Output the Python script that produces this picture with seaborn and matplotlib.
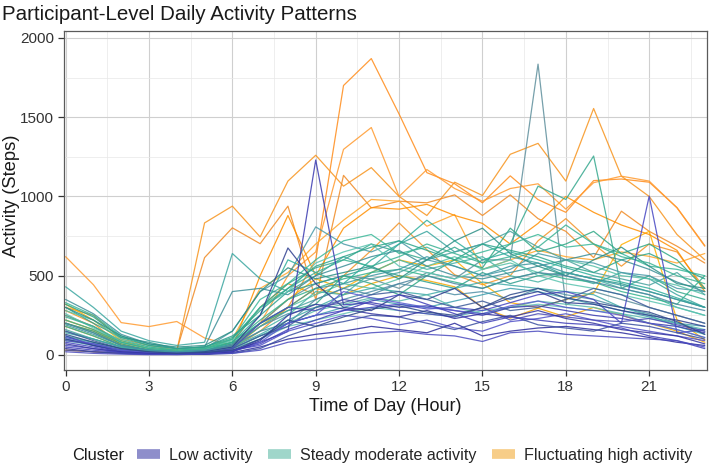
import numpy as np
import pandas as pd
import matplotlib
matplotlib.use("Agg")
import matplotlib.pyplot as plt
import seaborn as sns
from matplotlib.lines import Line2D
from matplotlib.ticker import MultipleLocator

hours = list(range(24))

# ---- Fluctuating high activity (orange) ----
high = {
    "H01": [30, 20, 10, 5, 5, 10, 40, 150, 300, 600, 1700, 1870, 1520, 1150, 1080, 960, 1130, 980, 900, 1100, 1110, 1090, 930, 690],
    "H02": [280, 200, 60, 30, 25, 833, 939, 745, 1097, 1260, 1065, 1182, 1000, 880, 1090, 1006, 1266, 1335, 1097, 1555, 1128, 1000, 760, 600],
    "H03": [620, 443, 204, 179, 211, 107, 60, 200, 500, 650, 1297, 1435, 1000, 1170, 1050, 970, 1050, 1080, 920, 1087, 1128, 1097, 928, 686],
    "H04": [300, 250, 100, 60, 30, 614, 802, 702, 939, 350, 1133, 928, 970, 960, 1010, 880, 1010, 860, 780, 614, 907, 780, 686, 580],
    "H05": [250, 180, 80, 40, 30, 40, 100, 420, 520, 700, 850, 981, 970, 812, 886, 540, 600, 660, 620, 600, 650, 622, 580, 640],
    "H06": [200, 150, 60, 30, 20, 30, 80, 300, 450, 380, 500, 660, 833, 664, 506, 443, 500, 720, 860, 700, 560, 700, 650, 420],
    "H07": [320, 220, 90, 40, 20, 20, 60, 200, 350, 480, 420, 520, 600, 560, 600, 450, 330, 300, 350, 390, 696, 780, 221, 95],
    "H08": [180, 120, 50, 20, 10, 20, 40, 180, 300, 420, 380, 450, 500, 470, 430, 300, 232, 295, 240, 300, 250, 200, 150, 80],
    "H09": [220, 160, 70, 30, 20, 20, 50, 500, 880, 500, 800, 930, 920, 950, 880, 830, 700, 830, 1000, 900, 820, 760, 660, 400],
}
high_colors = ["#ff8c1a", "#f7941d", "#ff9a2e", "#f08a24", "#ffa52a", "#f39325", "#ffb000", "#f5a800", "#ff8f00"]

# ---- Steady moderate activity (teal) ----
steady = {
    "S01": [100, 60, 30, 20, 10, 20, 60, 200, 350, 450, 500, 480, 420, 520, 480, 600, 600, 1835, 316, 400, 350, 300, 250, 200],
    "S02": [200, 140, 60, 30, 20, 30, 80, 300, 450, 550, 600, 700, 650, 600, 680, 580, 700, 1065, 981, 1255, 420, 500, 400, 350],
    "S03": [430, 300, 150, 90, 60, 80, 640, 480, 400, 500, 620, 550, 700, 780, 650, 700, 620, 580, 500, 450, 520, 480, 380, 300],
    "S04": [250, 180, 80, 40, 20, 40, 150, 400, 500, 808, 700, 650, 720, 600, 560, 500, 540, 640, 600, 580, 520, 500, 420, 400],
    "S05": [330, 250, 120, 60, 40, 50, 100, 350, 450, 600, 720, 760, 640, 680, 600, 650, 700, 760, 680, 700, 640, 560, 540, 500],
    "S06": [300, 200, 110, 80, 40, 50, 120, 250, 400, 450, 500, 550, 500, 460, 420, 520, 450, 500, 520, 480, 450, 400, 350, 300],
    "S07": [280, 220, 100, 50, 30, 40, 90, 200, 300, 380, 450, 420, 480, 560, 620, 540, 580, 520, 600, 560, 500, 480, 440, 380],
    "S08": [150, 100, 50, 30, 20, 30, 60, 180, 260, 300, 350, 400, 450, 420, 380, 400, 350, 420, 380, 350, 300, 260, 200, 150],
    "S09": [200, 150, 70, 30, 20, 25, 70, 200, 280, 320, 500, 450, 380, 500, 600, 550, 800, 650, 700, 780, 640, 700, 600, 420],
    "S10": [120, 80, 40, 20, 10, 20, 50, 150, 250, 400, 380, 520, 600, 540, 580, 620, 500, 460, 520, 480, 420, 380, 300, 250],
    "S11": [350, 260, 130, 70, 40, 50, 400, 420, 380, 500, 560, 620, 660, 560, 500, 480, 520, 560, 600, 640, 600, 540, 460, 400],
    "S12": [180, 120, 50, 30, 20, 30, 80, 250, 600, 520, 450, 600, 700, 850, 720, 600, 650, 600, 550, 500, 460, 420, 360, 300],
    "S13": [260, 170, 80, 40, 20, 30, 100, 300, 400, 580, 650, 700, 560, 520, 480, 540, 600, 500, 450, 420, 380, 340, 300, 250],
    "S14": [100, 70, 30, 15, 10, 15, 40, 120, 200, 250, 300, 350, 320, 300, 340, 380, 420, 400, 360, 320, 280, 240, 200, 180],
    "S15": [220, 160, 80, 40, 30, 40, 80, 220, 350, 420, 480, 520, 540, 500, 460, 420, 480, 520, 480, 460, 400, 360, 320, 500],
    "S16": [160, 100, 50, 30, 20, 20, 50, 180, 280, 350, 420, 480, 520, 600, 650, 700, 780, 680, 600, 520, 480, 440, 520, 380],
    "S17": [300, 220, 120, 70, 50, 60, 150, 400, 550, 480, 520, 560, 480, 600, 720, 800, 640, 560, 500, 600, 680, 560, 450, 420],
    "S18": [90, 60, 30, 15, 10, 15, 40, 100, 180, 220, 260, 300, 280, 260, 240, 280, 300, 320, 300, 280, 260, 200, 160, 110],
    "S19": [240, 180, 90, 50, 30, 40, 100, 300, 420, 520, 600, 560, 620, 700, 640, 580, 620, 680, 820, 700, 620, 580, 500, 450],
    "S20": [200, 140, 60, 30, 20, 30, 60, 150, 200, 350, 420, 380, 450, 500, 450, 420, 480, 520, 500, 460, 420, 380, 320, 280],
    "S21": [140, 100, 50, 20, 10, 20, 50, 130, 220, 300, 380, 420, 400, 380, 420, 460, 440, 420, 400, 380, 300, 250, 180, 130],
    "S22": [320, 240, 110, 60, 40, 50, 110, 280, 420, 560, 620, 680, 720, 660, 600, 700, 660, 620, 560, 520, 600, 640, 560, 480],
    "S23": [110, 80, 40, 20, 10, 15, 40, 120, 200, 280, 320, 360, 340, 380, 300, 260, 300, 340, 320, 300, 260, 230, 200, 160],
    "S24": [190, 130, 60, 30, 20, 25, 70, 200, 300, 420, 450, 500, 540, 620, 560, 500, 560, 580, 520, 480, 440, 400, 350, 300],
}
steady_colors = ["#5e8f9c", "#35a88e", "#3aa6a0", "#4a9aa8", "#3cb89a", "#2e9f8f", "#56c0a8", "#4f8fa6",
                 "#30a886", "#47b3a4", "#3d8f98", "#2fae9c", "#5bc4b0", "#3f9fae", "#34b28e", "#4aa3a0",
                 "#2c8f86", "#62c2b4", "#3bb294", "#4b86a0", "#40aaa8", "#2ea58c", "#58b8ac", "#3c98a0"]

# ---- Low activity (blue) ----
low = {
    "L01": [120, 60, 20, 10, 5, 10, 30, 80, 148, 1230, 316, 330, 300, 310, 280, 250, 300, 310, 280, 250, 230, 200, 180, 140],
    "L02": [80, 50, 20, 10, 5, 5, 20, 100, 200, 250, 280, 300, 320, 290, 300, 280, 330, 380, 400, 350, 200, 1002, 139, 160],
    "L03": [100, 60, 30, 15, 10, 20, 50, 250, 675, 450, 300, 280, 380, 350, 420, 300, 360, 400, 330, 320, 280, 250, 220, 180],
    "L04": [60, 40, 15, 5, 5, 10, 30, 60, 150, 200, 250, 230, 190, 220, 170, 150, 210, 230, 260, 220, 180, 150, 120, 90],
    "L05": [150, 90, 40, 20, 10, 15, 40, 120, 180, 300, 330, 380, 400, 350, 300, 340, 280, 300, 350, 420, 380, 300, 250, 200],
    "L06": [40, 20, 10, 5, 3, 5, 15, 50, 100, 130, 150, 180, 160, 140, 200, 120, 150, 170, 180, 160, 140, 110, 80, 60],
    "L07": [90, 70, 30, 10, 5, 10, 40, 200, 300, 280, 350, 320, 280, 260, 240, 300, 220, 260, 240, 220, 210, 230, 190, 150],
    "L08": [30, 20, 10, 5, 5, 5, 10, 40, 120, 180, 210, 250, 240, 200, 160, 210, 250, 190, 170, 150, 200, 180, 140, 100],
    "L09": [110, 70, 30, 15, 10, 10, 20, 80, 200, 250, 400, 360, 330, 300, 280, 260, 310, 340, 300, 280, 250, 200, 160, 110],
    "L10": [70, 40, 20, 10, 5, 5, 20, 90, 250, 320, 290, 260, 240, 280, 230, 260, 240, 280, 230, 200, 160, 140, 120, 70],
    "L11": [50, 30, 15, 5, 5, 10, 25, 70, 160, 220, 280, 340, 380, 320, 260, 200, 240, 220, 200, 190, 170, 120, 90, 40],
    "L12": [130, 80, 40, 20, 10, 15, 30, 100, 220, 180, 240, 290, 310, 270, 250, 300, 380, 420, 360, 330, 300, 270, 210, 130],
    "L13": [20, 10, 5, 2, 2, 5, 10, 30, 80, 100, 120, 140, 150, 130, 120, 85, 140, 150, 130, 120, 110, 100, 90, 50],
}
low_colors = ["#3a3ab0", "#4646c2", "#2f3f8f", "#5050c8", "#3d5a99", "#2b2b9c", "#4a4ab5",
              "#3b4fa0", "#5a5ad0", "#34349f", "#4040b8", "#2e4a8a", "#4b4bbf"]

cluster_names = ["Low activity", "Steady moderate activity", "Fluctuating high activity"]
legend_colors = ["#8e8ecb", "#9fd6ca", "#f7cd88"]

# ---- long table ----
rows = []
palette = {}
order = []
for data, cols, cname in [(high, high_colors, cluster_names[2]),
                          (steady, steady_colors, cluster_names[1]),
                          (low, low_colors, cluster_names[0])]:
    for (pid, vals), col in zip(data.items(), cols):
        palette[pid] = col
        order.append(pid)
        for h, v in zip(hours, vals):
            rows.append({"pid": pid, "cluster": cname, "hour": h, "steps": v})
df = pd.DataFrame(rows)

sns.set_style("white")
plt.rcParams["font.family"] = ["Liberation Sans", "DejaVu Sans"]

W, H = 709, 465
fig = plt.figure(figsize=(W / 100, H / 100), dpi=100)
L, R, T, B = 64, 707, 31, 370
ax = fig.add_axes([L / W, 1 - B / H, (R - L) / W, (B - T) / H])

sns.lineplot(data=df, x="hour", y="steps", hue="pid", hue_order=order, palette=palette,
             estimator=None, units="pid", legend=False, linewidth=0.9, alpha=0.85, ax=ax, sort=False)

ax.set_xlim(-0.058, 23.08)
ax.set_ylim(-95, 2044)
ax.xaxis.set_major_locator(MultipleLocator(3))
ax.xaxis.set_minor_locator(MultipleLocator(1.5))
ax.yaxis.set_major_locator(MultipleLocator(500))
ax.yaxis.set_minor_locator(MultipleLocator(250))
ax.grid(which="major", color="#cfcfcf", linewidth=0.8)
ax.grid(which="minor", color="#e8e8e8", linewidth=0.5)
ax.set_axisbelow(True)
for s in ax.spines.values():
    s.set_visible(True)
    s.set_color("#5a5a5a")
    s.set_linewidth(0.9)
ax.tick_params(which="major", direction="out", length=4, width=0.9, color="#333333",
               labelsize=11, labelcolor="#333333", pad=3, left=True, bottom=True)
ax.tick_params(which="minor", length=0)
ax.set_xlabel("")
ax.set_ylabel("")

fig.text(2 / W, 1 - 20 / H, "Participant-Level Daily Activity Patterns", fontsize=14.8,
         va="baseline", ha="left", color="#1a1a1a")
fig.text(385 / W, 1 - 406 / H, "Time of Day (Hour)", fontsize=13, ha="center", va="center", color="#1a1a1a")
fig.text(12 / W, 1 - 196 / H, "Activity (Steps)", fontsize=13.2, ha="center", va="center",
         rotation=90, color="#1a1a1a")

fig.text(72 / W, 1 - 455 / H, "Cluster", fontsize=11.8, ha="left", va="center", color="#1a1a1a")
handles = [Line2D([0], [0], color=c, lw=7, solid_capstyle="butt") for c in legend_colors]
fig.legend(handles, cluster_names, loc="center left", bbox_to_anchor=(137 / W, 1 - 455 / H),
           ncol=3, frameon=False, fontsize=11.6, handlelength=1.4, handletextpad=0.6,
           columnspacing=0.95, borderpad=0, borderaxespad=0)

fig.savefig("out.png", dpi=100, facecolor="white")
